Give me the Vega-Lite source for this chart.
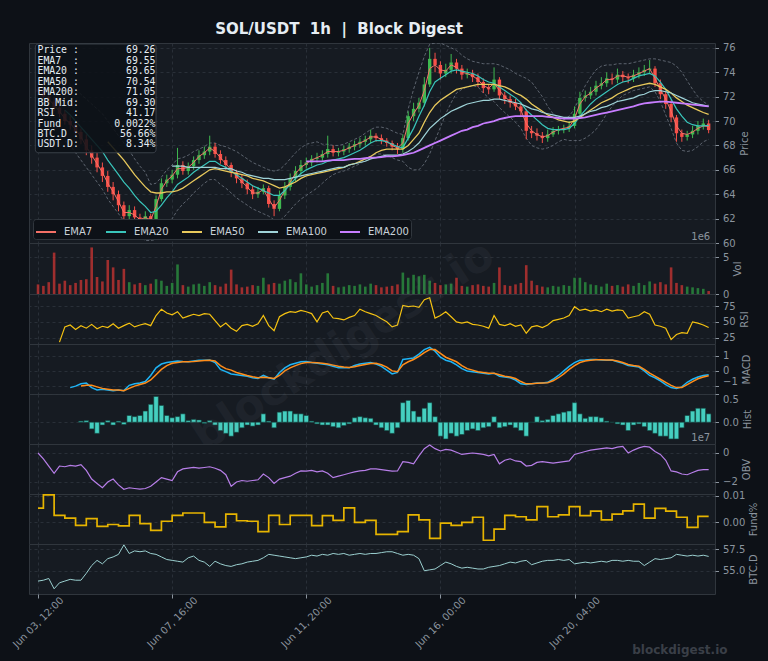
{
"$schema":"https://vega.github.io/schema/vega-lite/v6.json",
"background":"#0d1117",
"padding":{"left":10,"top":22,"right":12,"bottom":6},
"autosize":{"type":"pad"},
"title":{"text":"SOL/USDT\u00a0\u00a01h\u00a0\u00a0|\u00a0\u00a0Block Digest","fontSize":15,"fontWeight":"bold","color":"#e6edf3","anchor":"middle","frame":"group","dx":-33,"offset":5,"font":"DejaVu Sans"},
"spacing":0,
"bounds":"flush",
"resolve":{"scale":{"x":"shared","y":"independent","color":"independent"},"axis":{"x":"independent","y":"independent"}},
"datasets":{"d":[
{"t":"2024-06-03T12:00Z","o":72.6,"h":72.9,"l":72.1,"c":72.4,"v":1.3e6,"ob":0,"f":0.0053,"b":53.8},
{"t":"2024-06-03T16:00Z","o":72.4,"h":72.7,"l":71.8,"c":72.0,"v":1.1e6,"ob":-0.4e7,"f":0.0103,"b":53.9},
{"t":"2024-06-03T20:00Z","o":72.0,"h":72.3,"l":71.3,"c":71.6,"v":1.6e6,"e7":71.8,"ob":-0.9e7,"f":0.0103,"b":54.1},
{"t":"2024-06-04T00:00Z","o":71.6,"h":71.9,"l":70.8,"c":71.1,"v":5.6e6,"e7":71.3,"ob":-1.4e7,"f":0.0026,"b":52.9},
{"t":"2024-06-04T04:00Z","o":71.1,"h":71.4,"l":70.3,"c":70.6,"v":1.4e6,"e7":70.8,"r":18,"ob":-0.9e7,"f":0.0026,"b":53.6},
{"t":"2024-06-04T08:00Z","o":70.6,"h":70.9,"l":69.7,"c":70.0,"v":1.8e6,"e7":70.2,"e20":70.9,"bu":73.4,"bl":68.4,"r":42,"ob":-0.95e7,"f":0.0016,"b":53.8},
{"t":"2024-06-04T12:00Z","o":70.0,"h":70.4,"l":69.3,"c":69.7,"v":1.2e6,"e7":69.8,"e20":70.5,"bu":73.0,"bl":68.0,"r":45,"m":-1.1,"ob":-0.85e7,"f":0.0016,"b":54.0},
{"t":"2024-06-04T16:00Z","o":69.7,"h":70.0,"l":68.8,"c":69.1,"v":1.5e6,"e7":69.3,"e20":70.0,"bu":72.6,"bl":67.4,"r":38,"m":-1.0,"ob":-0.9e7,"f":-0.0011,"b":53.9},
{"t":"2024-06-04T20:00Z","o":69.1,"h":69.4,"l":68.1,"c":68.5,"v":1.9e6,"e7":68.7,"e20":69.5,"bu":72.2,"bl":66.8,"r":44,"m":-0.85,"s":-1.0,"hs":0.02,"ob":-0.8e7,"f":-0.0011,"b":53.9},
{"t":"2024-06-05T00:00Z","o":68.5,"h":68.9,"l":67.2,"c":67.6,"v":2.0e6,"e7":67.9,"e20":69.0,"bu":71.8,"bl":66.2,"r":40,"m":-0.8,"s":-0.95,"hs":0.03,"ob":-1.2e7,"f":0.0014,"b":54.7},
{"t":"2024-06-05T04:00Z","o":67.6,"h":68.0,"l":66.5,"c":67.0,"v":6.3e6,"e7":67.2,"e20":68.5,"bu":71.4,"bl":65.6,"r":46,"m":-1.1,"s":-0.95,"hs":-0.12,"ob":-1.8e7,"f":0.0014,"b":55.6},
{"t":"2024-06-05T08:00Z","o":67.0,"h":67.4,"l":65.8,"c":66.2,"v":2.3e6,"e7":66.5,"e20":68.0,"bu":71.0,"bl":65.0,"r":39,"m":-1.25,"s":-1.05,"hs":-0.2,"ob":-2.1e7,"f":-0.0015,"b":56.2},
{"t":"2024-06-05T12:00Z","o":66.2,"h":66.6,"l":65.0,"c":65.5,"v":1.7e6,"e7":65.8,"e20":67.5,"bu":70.6,"bl":64.4,"r":43,"m":-1.2,"s":-1.15,"hs":-0.05,"ob":-2.4e7,"f":-0.0015,"b":55.8},
{"t":"2024-06-05T16:00Z","o":65.5,"h":65.9,"l":64.2,"c":64.6,"v":4.6e6,"e7":64.9,"e20":66.8,"e50":68.3,"bu":70.0,"bl":63.6,"r":41,"m":-1.25,"s":-1.2,"hs":0.03,"ob":-2.0e7,"f":-0.0008,"b":56.4},
{"t":"2024-06-05T20:00Z","o":64.6,"h":65.0,"l":63.5,"c":64.0,"v":3.6e6,"e7":64.2,"e20":66.2,"e50":67.8,"bu":69.4,"bl":63.0,"r":47,"m":-1.3,"s":-1.25,"hs":-0.05,"ob":-1.8e7,"f":-0.0008,"b":56.6},
{"t":"2024-06-06T00:00Z","o":64.0,"h":64.3,"l":62.6,"c":63.1,"v":1.9e6,"e7":63.4,"e20":65.6,"e50":67.3,"bu":68.8,"bl":62.4,"r":40,"m":-1.25,"s":-1.25,"hs":0.02,"ob":-2.2e7,"f":-0.0013,"b":56.9},
{"t":"2024-06-06T04:00Z","o":63.1,"h":63.4,"l":60.6,"c":62.2,"v":3.4e6,"e7":62.5,"e20":65.0,"e50":66.8,"bu":68.2,"bl":61.8,"r":44,"m":-1.3,"s":-1.3,"hs":-0.04,"ob":-2.5e7,"f":-0.0013,"b":58.0},
{"t":"2024-06-06T08:00Z","o":62.2,"h":63.1,"l":61.9,"c":62.7,"v":1.6e6,"e7":62.5,"e20":64.5,"e50":66.2,"bu":67.6,"bl":61.4,"r":48,"m":-0.95,"s":-1.15,"hs":0.12,"ob":-2.4e7,"f":0.0026,"b":57.0},
{"t":"2024-06-06T12:00Z","o":62.7,"h":63.0,"l":61.7,"c":62.1,"v":1.3e6,"e7":62.3,"e20":63.9,"e50":65.6,"bu":66.9,"bl":60.9,"r":42,"m":-0.85,"s":-1.0,"hs":0.1,"ob":-2.45e7,"f":0.0026,"b":57.3},
{"t":"2024-06-06T16:00Z","o":62.1,"h":62.4,"l":61.3,"c":61.8,"v":1.5e6,"e7":61.9,"e20":63.4,"e50":65.1,"bu":66.3,"bl":60.5,"r":45,"m":-0.8,"s":-0.9,"hs":0.12,"ob":-2.5e7,"f":-0.0005,"b":57.2},
{"t":"2024-06-06T20:00Z","o":61.8,"h":62.6,"l":61.5,"c":62.2,"v":1.2e6,"e7":62.1,"e20":63.0,"e50":64.6,"bu":65.8,"bl":60.2,"r":47,"m":-0.7,"s":-0.8,"hs":0.2,"ob":-2.45e7,"f":-0.0005,"b":57.3},
{"t":"2024-06-07T00:00Z","o":62.2,"h":62.4,"l":61.2,"c":61.7,"v":1.4e6,"e7":61.9,"e20":62.5,"e50":64.2,"bu":64.8,"bl":60.2,"r":44,"m":-0.3,"s":-0.6,"hs":0.32,"ob":-2.3e7,"f":-0.003,"b":57.0},
{"t":"2024-06-07T04:00Z","o":61.7,"h":63.9,"l":61.5,"c":63.6,"v":2.0e6,"e7":63.0,"e20":62.6,"e50":64.1,"bu":64.9,"bl":60.3,"r":60,"m":0.2,"s":-0.25,"hs":0.46,"ob":-2.0e7,"f":-0.003,"b":56.9},
{"t":"2024-06-07T08:00Z","o":63.6,"h":65.3,"l":63.4,"c":64.9,"v":1.8e6,"e7":64.4,"e20":63.1,"e50":64.1,"bu":65.4,"bl":60.8,"r":70,"m":0.45,"s":0.1,"hs":0.3,"ob":-1.7e7,"f":0.0004,"b":56.6},
{"t":"2024-06-07T12:00Z","o":64.9,"h":65.6,"l":64.6,"c":65.2,"v":1.1e6,"e7":65.1,"e20":63.7,"e50":64.2,"bu":66.0,"bl":61.4,"r":64,"m":0.55,"s":0.35,"hs":0.12,"ob":-1.8e7,"f":0.0004,"b":56.3},
{"t":"2024-06-07T16:00Z","o":65.2,"h":66.0,"l":64.9,"c":65.6,"v":1.5e6,"e7":65.5,"e20":64.2,"e50":64.2,"e100":66.3,"bu":66.4,"bl":62.0,"r":61,"m":0.6,"s":0.5,"hs":0.08,"ob":-1.9e7,"f":0.0026,"b":56.2},
{"t":"2024-06-07T20:00Z","o":65.6,"h":67.8,"l":65.3,"c":66.4,"v":4.0e6,"e7":66.1,"e20":64.8,"e50":64.3,"e100":66.3,"bu":66.9,"bl":62.7,"r":66,"m":0.65,"s":0.55,"hs":0.1,"ob":-1.3e7,"f":0.0026,"b":56.1},
{"t":"2024-06-08T00:00Z","o":66.4,"h":66.7,"l":65.6,"c":65.9,"v":1.2e6,"e7":66.1,"e20":65.1,"e50":64.5,"e100":66.3,"bu":67.0,"bl":63.2,"r":56,"m":0.62,"s":0.6,"hs":0.15,"ob":-1.1e7,"f":0.0035,"b":56.0},
{"t":"2024-06-08T04:00Z","o":65.9,"h":66.6,"l":65.6,"c":66.3,"v":1.0e6,"e7":66.2,"e20":65.4,"e50":64.8,"e100":66.2,"bu":67.2,"bl":63.6,"r":59,"m":0.6,"s":0.6,"hs":0.03,"ob":-1.05e7,"f":0.0035,"b":56.5},
{"t":"2024-06-08T08:00Z","o":66.3,"h":67.1,"l":66.0,"c":66.8,"v":1.3e6,"e7":66.6,"e20":65.8,"e50":65.1,"e100":66.2,"bu":67.5,"bl":64.1,"r":62,"m":0.65,"s":0.62,"hs":0.05,"ob":-1.0e7,"f":0.0035,"b":56.7},
{"t":"2024-06-08T12:00Z","o":66.8,"h":67.6,"l":66.5,"c":67.2,"v":1.4e6,"e7":67.1,"e20":66.1,"e50":65.4,"e100":66.2,"bu":67.7,"bl":64.5,"r":60,"m":0.7,"s":0.65,"hs":0.04,"ob":-1.05e7,"f":0.0035,"b":56.2},
{"t":"2024-06-08T16:00Z","o":67.2,"h":67.9,"l":66.9,"c":67.5,"v":1.1e6,"e7":67.4,"e20":66.4,"e50":65.7,"e100":66.2,"bu":67.9,"bl":64.9,"r":63,"m":0.7,"s":0.68,"hs":-0.02,"ob":-1.0e7,"f":0,"b":56.0},
{"t":"2024-06-08T20:00Z","o":67.5,"h":68.8,"l":67.2,"c":67.9,"v":1.6e6,"e7":67.8,"e20":66.7,"e50":66.0,"e100":66.2,"bu":68.2,"bl":65.2,"r":62,"m":0.72,"s":0.7,"hs":0.03,"ob":-0.95e7,"f":0,"b":55.5},
{"t":"2024-06-09T00:00Z","o":67.9,"h":68.2,"l":67.0,"c":67.3,"v":1.2e6,"e7":67.5,"e20":66.7,"e50":66.1,"e100":66.2,"bu":68.2,"bl":65.2,"r":52,"m":0.55,"s":0.65,"hs":-0.05,"ob":-1.05e7,"f":-0.0017,"b":56.1},
{"t":"2024-06-09T04:00Z","o":67.3,"h":67.6,"l":66.5,"c":66.8,"v":1.0e6,"e7":67.0,"e20":66.4,"e50":66.0,"e100":66.1,"bu":68.0,"bl":64.8,"r":42,"m":0.1,"s":0.35,"hs":-0.15,"ob":-1.2e7,"f":-0.0017,"b":55.8},
{"t":"2024-06-09T08:00Z","o":66.8,"h":67.1,"l":66.0,"c":66.4,"v":1.4e6,"e7":66.5,"e20":66.2,"e50":65.9,"e100":66.1,"bu":67.9,"bl":64.5,"r":48,"m":-0.05,"s":0.15,"hs":-0.2,"ob":-1.5e7,"f":0.0031,"b":55.6},
{"t":"2024-06-09T12:00Z","o":66.4,"h":66.6,"l":65.4,"c":65.8,"v":3.3e6,"e7":66.0,"e20":65.9,"e50":65.8,"e100":66.1,"bu":67.7,"bl":64.1,"r":40,"m":-0.2,"s":0.05,"hs":-0.25,"ob":-2.3e7,"f":0.0031,"b":55.5},
{"t":"2024-06-09T16:00Z","o":65.8,"h":66.0,"l":64.9,"c":65.3,"v":1.3e6,"e7":65.5,"e20":65.6,"e50":65.7,"e100":65.9,"bu":67.5,"bl":63.7,"r":35,"m":-0.25,"s":-0.1,"hs":-0.18,"ob":-2.0e7,"f":0.0006,"b":55.7},
{"t":"2024-06-09T20:00Z","o":65.3,"h":65.6,"l":64.5,"c":64.9,"v":0.9e6,"e7":65.0,"e20":65.3,"e50":65.6,"e100":65.8,"bu":67.2,"bl":63.4,"r":44,"m":-0.3,"s":-0.2,"hs":-0.1,"ob":-1.9e7,"f":0.0006,"b":55.8},
{"t":"2024-06-10T00:00Z","o":64.9,"h":65.2,"l":64.0,"c":64.4,"v":1.0e6,"e7":64.6,"e20":65.0,"e50":65.5,"e100":65.6,"bu":66.9,"bl":63.1,"r":46,"m":-0.35,"s":-0.3,"hs":-0.05,"ob":-1.95e7,"f":0.0004,"b":56.0},
{"t":"2024-06-10T04:00Z","o":64.4,"h":64.7,"l":63.6,"c":64.0,"v":1.2e6,"e7":64.1,"e20":64.7,"e50":65.3,"e100":65.5,"bu":66.6,"bl":62.8,"r":43,"m":-0.45,"s":-0.38,"hs":-0.07,"ob":-1.9e7,"f":0.0004,"b":56.1},
{"t":"2024-06-10T08:00Z","o":64.0,"h":64.6,"l":63.7,"c":64.2,"v":1.1e6,"e7":64.1,"e20":64.5,"e50":65.2,"e100":65.4,"bu":66.4,"bl":62.6,"r":47,"m":-0.5,"s":-0.45,"hs":-0.05,"ob":-1.85e7,"f":-0.0035,"b":56.2},
{"t":"2024-06-10T12:00Z","o":64.2,"h":64.8,"l":64.0,"c":64.5,"v":2.2e6,"e7":64.4,"e20":64.3,"e50":65.1,"e100":65.3,"bu":66.2,"bl":62.4,"r":60,"m":-0.3,"s":-0.42,"hs":0.15,"ob":-1.45e7,"f":-0.0035,"b":56.5},
{"t":"2024-06-10T16:00Z","o":64.5,"h":64.7,"l":62.9,"c":63.2,"v":1.3e6,"e7":63.6,"e20":64.1,"e50":64.9,"e100":65.3,"bu":66.0,"bl":62.2,"r":44,"m":-0.45,"s":-0.45,"hs":0.02,"ob":-1.7e7,"f":0.0026,"b":56.9},
{"t":"2024-06-10T20:00Z","o":63.2,"h":63.5,"l":62.2,"c":62.8,"v":1.5e6,"e7":62.9,"e20":63.9,"e50":64.7,"e100":65.2,"bu":65.9,"bl":61.9,"r":36,"m":-0.55,"s":-0.5,"hs":-0.1,"ob":-2.1e7,"f":0.0026,"b":56.8},
{"t":"2024-06-11T00:00Z","o":62.8,"h":64.3,"l":62.6,"c":63.9,"v":1.4e6,"e7":63.5,"e20":63.9,"e50":64.5,"e100":65.2,"bu":66.0,"bl":61.8,"r":58,"m":-0.1,"s":-0.3,"hs":0.18,"ob":-1.8e7,"f":-0.0008,"b":56.7},
{"t":"2024-06-11T04:00Z","o":63.9,"h":65.0,"l":63.6,"c":64.6,"v":1.8e6,"e7":64.3,"e20":64.3,"e50":64.6,"e100":65.2,"bu":66.4,"bl":62.2,"r":63,"m":0.2,"s":0.0,"hs":0.2,"ob":-1.7e7,"f":-0.0008,"b":56.6},
{"t":"2024-06-11T08:00Z","o":64.6,"h":65.7,"l":64.3,"c":65.3,"v":2.0e6,"e7":65.0,"e20":64.8,"e50":64.8,"e100":65.3,"bu":66.9,"bl":62.7,"r":66,"m":0.4,"s":0.2,"hs":0.2,"ob":-1.6e7,"f":0.0026,"b":56.5},
{"t":"2024-06-11T12:00Z","o":65.3,"h":66.3,"l":65.0,"c":65.9,"v":1.6e6,"e7":65.7,"e20":65.3,"e50":65.0,"e100":65.4,"bu":67.4,"bl":63.2,"r":65,"m":0.5,"s":0.35,"hs":0.15,"ob":-1.4e7,"f":0.0026,"b":56.4},
{"t":"2024-06-11T16:00Z","o":65.9,"h":66.8,"l":65.6,"c":66.4,"v":2.8e6,"e7":66.2,"e20":65.7,"e50":65.3,"e100":65.5,"bu":67.8,"bl":63.6,"r":68,"m":0.6,"s":0.48,"hs":0.15,"ob":-1.24e7,"f":0.0026,"b":56.5},
{"t":"2024-06-11T20:00Z","o":66.4,"h":67.0,"l":66.1,"c":66.6,"v":1.3e6,"e7":66.5,"e20":66.0,"e50":65.5,"e100":65.6,"e200":66.7,"bu":68.1,"bl":63.9,"r":66,"m":0.62,"s":0.55,"hs":0.12,"ob":-1.25e7,"f":0.0026,"b":56.6},
{"t":"2024-06-12T00:00Z","o":66.6,"h":67.2,"l":66.3,"c":66.9,"v":1.0e6,"e7":66.8,"e20":66.2,"e50":65.6,"e100":65.7,"e200":66.7,"bu":68.2,"bl":64.2,"r":63,"m":0.55,"s":0.56,"hs":0.02,"ob":-1.2e7,"f":-0.0012,"b":56.8},
{"t":"2024-06-12T04:00Z","o":66.9,"h":67.4,"l":66.6,"c":67.0,"v":1.2e6,"e7":67.0,"e20":66.4,"e50":65.7,"e100":65.8,"e200":66.7,"bu":68.3,"bl":64.5,"r":50,"m":0.5,"s":0.53,"hs":-0.03,"ob":-1.3e7,"f":-0.0012,"b":56.7},
{"t":"2024-06-12T08:00Z","o":67.0,"h":67.6,"l":66.7,"c":67.3,"v":1.5e6,"e7":67.2,"e20":66.5,"e50":65.8,"e100":65.9,"e200":66.7,"bu":68.1,"bl":64.9,"r":64,"m":0.45,"s":0.5,"hs":-0.05,"ob":-1.24e7,"f":0.0025,"b":56.9},
{"t":"2024-06-12T12:00Z","o":67.3,"h":68.8,"l":67.0,"c":67.7,"v":2.8e6,"e7":67.5,"e20":66.7,"e50":65.9,"e100":66.0,"e200":66.75,"bu":68.1,"bl":65.3,"r":67,"m":0.4,"s":0.45,"hs":-0.05,"ob":-1.4e7,"f":0.0025,"b":56.8},
{"t":"2024-06-12T16:00Z","o":67.7,"h":68.0,"l":67.1,"c":67.4,"v":1.1e6,"e7":67.5,"e20":66.8,"e50":66.0,"e100":66.1,"e200":66.8,"bu":68.0,"bl":65.6,"r":56,"m":0.3,"s":0.38,"hs":-0.08,"ob":-1.7e7,"f":0.0007,"b":57.0},
{"t":"2024-06-12T20:00Z","o":67.4,"h":67.8,"l":67.1,"c":67.5,"v":0.9e6,"e7":67.5,"e20":66.9,"e50":66.1,"e100":66.2,"e200":66.8,"bu":68.0,"bl":65.8,"r":55,"m":0.2,"s":0.3,"hs":-0.1,"ob":-1.6e7,"f":0.0007,"b":56.9},
{"t":"2024-06-13T00:00Z","o":67.5,"h":68.0,"l":67.2,"c":67.7,"v":1.0e6,"e7":67.6,"e20":67.0,"e50":66.2,"e100":66.2,"e200":66.8,"bu":68.1,"bl":65.9,"r":53,"m":0.2,"s":0.25,"hs":-0.06,"ob":-1.5e7,"f":0.0054,"b":57.0},
{"t":"2024-06-13T04:00Z","o":67.7,"h":68.2,"l":67.4,"c":67.9,"v":1.2e6,"e7":67.8,"e20":67.2,"e50":66.4,"e100":66.4,"e200":66.85,"bu":68.3,"bl":66.1,"r":57,"m":0.2,"s":0.22,"hs":-0.03,"ob":-1.4e7,"f":0.0054,"b":56.8},
{"t":"2024-06-13T08:00Z","o":67.9,"h":68.4,"l":67.6,"c":68.1,"v":1.1e6,"e7":68.0,"e20":67.4,"e50":66.5,"e100":66.5,"e200":66.9,"bu":68.5,"bl":66.3,"r":60,"m":0.35,"s":0.27,"hs":0.08,"ob":-1.3e7,"f":0,"b":56.9},
{"t":"2024-06-13T12:00Z","o":68.1,"h":68.6,"l":67.8,"c":68.3,"v":1.3e6,"e7":68.2,"e20":67.6,"e50":66.7,"e100":66.6,"e200":66.9,"bu":68.7,"bl":66.5,"r":70,"m":0.45,"s":0.35,"hs":0.1,"ob":-1.24e7,"f":0,"b":57.0},
{"t":"2024-06-13T16:00Z","o":68.3,"h":68.8,"l":68.0,"c":68.5,"v":1.0e6,"e7":68.4,"e20":67.9,"e50":66.9,"e100":66.7,"e200":66.95,"bu":69.0,"bl":66.8,"r":66,"m":0.5,"s":0.42,"hs":0.08,"ob":-1.2e7,"f":0.0007,"b":56.9},
{"t":"2024-06-13T20:00Z","o":68.5,"h":69.3,"l":68.2,"c":68.8,"v":1.4e6,"e7":68.7,"e20":68.2,"e50":67.1,"e100":66.9,"e200":67.0,"bu":69.3,"bl":67.1,"r":63,"m":0.55,"s":0.48,"hs":0.07,"ob":-1.1e7,"f":0.0007,"b":57.0},
{"t":"2024-06-14T00:00Z","o":68.8,"h":69.0,"l":68.3,"c":68.6,"v":1.2e6,"e7":68.7,"e20":68.4,"e50":67.4,"e100":67.0,"e200":67.0,"bu":69.5,"bl":67.3,"r":60,"m":0.45,"s":0.5,"hs":-0.05,"ob":-1.1e7,"f":-0.0045,"b":57.0},
{"t":"2024-06-14T04:00Z","o":68.6,"h":68.9,"l":68.1,"c":68.4,"v":0.9e6,"e7":68.5,"e20":68.4,"e50":67.6,"e100":67.1,"e200":67.05,"bu":69.5,"bl":67.3,"r":55,"m":0.3,"s":0.4,"hs":-0.1,"ob":-1.15e7,"f":-0.0045,"b":57.1},
{"t":"2024-06-14T08:00Z","o":68.4,"h":68.6,"l":67.9,"c":68.2,"v":1.0e6,"e7":68.3,"e20":68.3,"e50":67.7,"e100":67.2,"e200":67.1,"bu":69.4,"bl":67.2,"r":50,"m":0.05,"s":0.25,"hs":-0.15,"ob":-1.2e7,"f":-0.0045,"b":57.2},
{"t":"2024-06-14T12:00Z","o":68.2,"h":68.4,"l":67.6,"c":67.9,"v":1.1e6,"e7":68.0,"e20":68.1,"e50":67.7,"e100":67.2,"e200":67.1,"bu":69.2,"bl":67.0,"r":42,"m":-0.2,"s":0.0,"hs":-0.2,"ob":-1.25e7,"f":-0.0045,"b":57.2},
{"t":"2024-06-14T16:00Z","o":67.9,"h":68.2,"l":67.3,"c":67.7,"v":1.3e6,"e7":67.8,"e20":67.9,"e50":67.7,"e100":67.2,"e200":67.15,"bu":69.0,"bl":66.8,"r":45,"m":-0.1,"s":-0.05,"hs":-0.1,"ob":-1.24e7,"f":-0.0035,"b":57.0},
{"t":"2024-06-14T20:00Z","o":67.7,"h":68.9,"l":67.4,"c":68.6,"v":2.9e6,"e7":68.2,"e20":67.8,"e50":67.7,"e100":67.3,"e200":67.2,"bu":68.9,"bl":66.7,"r":76,"m":0.75,"s":0.4,"hs":0.35,"ob":-0.6e7,"f":-0.0035,"b":56.8},
{"t":"2024-06-15T00:00Z","o":68.6,"h":70.8,"l":68.4,"c":70.4,"v":2.2e6,"e7":69.8,"e20":68.6,"e50":68.0,"e100":67.5,"e200":67.3,"bu":71.0,"bl":66.2,"r":74,"m":0.8,"s":0.6,"hs":0.39,"ob":-0.65e7,"f":0.0028,"b":56.9},
{"t":"2024-06-15T04:00Z","o":70.4,"h":71.5,"l":70.0,"c":71.0,"v":2.6e6,"e7":70.6,"e20":69.4,"e50":68.5,"e100":67.8,"e200":67.4,"bu":72.6,"bl":66.0,"r":75,"m":0.85,"s":0.75,"hs":0.2,"ob":-0.75e7,"f":0.0028,"b":56.8},
{"t":"2024-06-15T08:00Z","o":71.0,"h":71.9,"l":70.7,"c":71.5,"v":2.4e6,"e7":71.3,"e20":70.4,"e50":69.0,"e100":68.2,"e200":67.6,"bu":74.0,"bl":66.0,"r":73,"m":1.1,"s":0.95,"hs":0.1,"ob":-0.2e7,"f":0.0009,"b":56.4},
{"t":"2024-06-15T12:00Z","o":71.5,"h":73.6,"l":71.2,"c":73.0,"v":2.6e6,"e7":72.5,"e20":71.3,"e50":69.9,"e100":68.8,"e200":67.8,"bu":75.3,"bl":66.5,"r":85,"m":1.4,"s":1.2,"hs":0.25,"ob":0.3e7,"f":0.0009,"b":55.0},
{"t":"2024-06-15T16:00Z","o":73.0,"h":76.0,"l":72.8,"c":75.1,"v":1.8e6,"e7":74.3,"e20":72.4,"e50":70.7,"e100":69.4,"e200":68.0,"bu":76.3,"bl":67.3,"r":88,"m":1.55,"s":1.4,"hs":0.35,"ob":0.55e7,"f":-0.006,"b":55.1},
{"t":"2024-06-15T20:00Z","o":75.1,"h":75.6,"l":74.0,"c":74.6,"v":1.5e6,"e7":74.6,"e20":73.2,"e50":71.3,"e100":69.8,"e200":68.2,"bu":76.4,"bl":68.4,"r":56,"m":1.3,"s":1.4,"hs":0.1,"ob":0.3e7,"f":-0.006,"b":55.2},
{"t":"2024-06-16T00:00Z","o":74.6,"h":74.9,"l":73.4,"c":73.9,"v":1.2e6,"e7":74.2,"e20":73.5,"e50":71.7,"e100":70.2,"e200":68.4,"bu":76.4,"bl":69.5,"r":60,"m":0.9,"s":1.15,"hs":-0.25,"ob":0.14e7,"f":-0.0003,"b":55.6},
{"t":"2024-06-16T04:00Z","o":73.9,"h":74.7,"l":73.6,"c":74.2,"v":1.3e6,"e7":74.1,"e20":73.8,"e50":72.0,"e100":70.5,"e200":68.6,"bu":76.2,"bl":70.6,"r":66,"m":0.7,"s":0.9,"hs":-0.3,"ob":0.25e7,"f":-0.0003,"b":56.0},
{"t":"2024-06-16T08:00Z","o":74.2,"h":75.5,"l":73.9,"c":74.8,"v":1.4e6,"e7":74.6,"e20":74.1,"e50":72.3,"e100":70.8,"e200":68.8,"bu":76.0,"bl":71.5,"r":58,"m":0.6,"s":0.75,"hs":-0.2,"ob":0.2e7,"f":-0.0011,"b":55.8},
{"t":"2024-06-16T12:00Z","o":74.8,"h":75.1,"l":73.9,"c":74.3,"v":2.2e6,"e7":74.4,"e20":74.2,"e50":72.6,"e100":71.0,"e200":69.0,"bu":75.8,"bl":72.3,"r":50,"m":0.4,"s":0.6,"hs":-0.25,"ob":0.05e7,"f":-0.0011,"b":55.5},
{"t":"2024-06-16T16:00Z","o":74.3,"h":74.6,"l":73.4,"c":73.8,"v":1.1e6,"e7":74.0,"e20":74.1,"e50":72.7,"e100":71.2,"e200":69.2,"bu":75.4,"bl":72.6,"r":48,"m":0.15,"s":0.35,"hs":-0.22,"ob":-0.1e7,"f":0,"b":55.3},
{"t":"2024-06-16T20:00Z","o":73.8,"h":74.3,"l":73.5,"c":73.9,"v":1.0e6,"e7":73.9,"e20":74.0,"e50":72.8,"e100":71.4,"e200":69.3,"bu":75.1,"bl":72.8,"r":50,"m":0.0,"s":0.15,"hs":-0.15,"ob":-0.05e7,"f":0,"b":55.4},
{"t":"2024-06-17T00:00Z","o":73.9,"h":74.2,"l":73.2,"c":73.6,"v":1.2e6,"e7":73.7,"e20":73.9,"e50":72.9,"e100":71.5,"e200":69.5,"bu":74.9,"bl":72.9,"r":46,"m":-0.05,"s":0.05,"hs":-0.12,"ob":0,"f":0.0019,"b":55.3},
{"t":"2024-06-17T04:00Z","o":73.6,"h":73.9,"l":72.8,"c":73.2,"v":1.3e6,"e7":73.4,"e20":73.7,"e50":73.0,"e100":71.6,"e200":69.6,"bu":74.8,"bl":72.8,"r":45,"m":-0.1,"s":-0.05,"hs":-0.15,"ob":-0.05e7,"f":0.0019,"b":55.2},
{"t":"2024-06-17T08:00Z","o":73.2,"h":73.5,"l":72.3,"c":72.7,"v":1.1e6,"e7":72.9,"e20":73.4,"e50":73.0,"e100":71.7,"e200":69.8,"bu":74.7,"bl":72.3,"r":43,"m":-0.15,"s":-0.1,"hs":-0.1,"ob":-0.1e7,"f":-0.0067,"b":55.2},
{"t":"2024-06-17T12:00Z","o":72.7,"h":73.0,"l":72.2,"c":72.6,"v":1.0e6,"e7":72.7,"e20":73.2,"e50":73.0,"e100":71.7,"e200":69.9,"bu":74.7,"bl":71.9,"r":40,"m":-0.2,"s":-0.15,"hs":-0.08,"ob":-0.2e7,"f":-0.0067,"b":55.4},
{"t":"2024-06-17T16:00Z","o":72.6,"h":74.4,"l":72.4,"c":73.4,"v":1.5e6,"e7":73.1,"e20":73.1,"e50":73.0,"e100":71.8,"e200":70.0,"bu":74.7,"bl":71.6,"r":60,"m":-0.15,"s":-0.15,"hs":0.1,"ob":-0.1e7,"f":-0.0025,"b":55.5},
{"t":"2024-06-17T20:00Z","o":73.4,"h":73.6,"l":71.8,"c":72.1,"v":3.6e6,"e7":72.5,"e20":72.8,"e50":72.9,"e100":71.8,"e200":70.15,"bu":74.6,"bl":71.1,"r":46,"m":-0.35,"s":-0.25,"hs":-0.1,"ob":-0.75e7,"f":-0.0025,"b":55.6},
{"t":"2024-06-18T00:00Z","o":72.1,"h":72.4,"l":71.4,"c":71.8,"v":1.2e6,"e7":72.0,"e20":72.5,"e50":72.8,"e100":71.7,"e200":70.25,"bu":74.4,"bl":70.7,"r":44,"m":-0.4,"s":-0.35,"hs":-0.08,"ob":-0.5e7,"f":0.0026,"b":55.8},
{"t":"2024-06-18T04:00Z","o":71.8,"h":72.1,"l":71.1,"c":71.5,"v":1.1e6,"e7":71.6,"e20":72.2,"e50":72.6,"e100":71.6,"e200":70.35,"bu":74.2,"bl":70.3,"r":47,"m":-0.45,"s":-0.4,"hs":-0.05,"ob":-0.4e7,"f":0.0026,"b":56.0},
{"t":"2024-06-18T08:00Z","o":71.5,"h":71.8,"l":70.9,"c":71.2,"v":1.3e6,"e7":71.3,"e20":71.9,"e50":72.3,"e100":71.5,"e200":70.4,"bu":73.9,"bl":69.9,"r":43,"m":-0.6,"s":-0.5,"hs":-0.1,"ob":-0.55e7,"f":0.0021,"b":55.9},
{"t":"2024-06-18T12:00Z","o":71.2,"h":71.5,"l":70.4,"c":70.8,"v":1.5e6,"e7":70.9,"e20":71.5,"e50":72.1,"e100":71.4,"e200":70.4,"bu":73.7,"bl":69.4,"r":45,"m":-0.85,"s":-0.7,"hs":-0.15,"ob":-0.6e7,"f":0.0021,"b":56.1},
{"t":"2024-06-18T16:00Z","o":70.8,"h":71.0,"l":68.5,"c":69.2,"v":3.9e6,"e7":69.8,"e20":70.9,"e50":71.8,"e100":71.2,"e200":70.4,"bu":73.5,"bl":68.6,"r":32,"m":-0.9,"s":-0.85,"hs":-0.25,"ob":-0.9e7,"f":0.0009,"b":56.2},
{"t":"2024-06-18T20:00Z","o":69.2,"h":69.6,"l":68.6,"c":69.0,"v":1.8e6,"e7":69.2,"e20":70.5,"e50":71.4,"e100":71.0,"e200":70.4,"bu":73.2,"bl":68.0,"r":42,"m":-0.85,"s":-0.85,"hs":0.0,"ob":-0.85e7,"f":0.0009,"b":55.7},
{"t":"2024-06-19T00:00Z","o":69.0,"h":69.4,"l":68.4,"c":68.8,"v":1.2e6,"e7":68.9,"e20":70.1,"e50":71.1,"e100":70.9,"e200":70.4,"bu":72.6,"bl":67.8,"r":44,"m":-0.8,"s":-0.82,"hs":0.1,"ob":-0.65e7,"f":0.0059,"b":55.9},
{"t":"2024-06-19T04:00Z","o":68.8,"h":69.1,"l":68.2,"c":68.6,"v":1.0e6,"e7":68.7,"e20":69.7,"e50":70.8,"e100":70.7,"e200":70.4,"bu":72.0,"bl":67.7,"r":41,"m":-0.8,"s":-0.8,"hs":0.03,"ob":-0.6e7,"f":0.0059,"b":56.1},
{"t":"2024-06-19T08:00Z","o":68.6,"h":69.3,"l":68.3,"c":68.9,"v":0.9e6,"e7":68.8,"e20":69.4,"e50":70.5,"e100":70.6,"e200":70.35,"bu":71.2,"bl":67.8,"r":45,"m":-0.75,"s":-0.78,"hs":0.05,"ob":-0.65e7,"f":0.0021,"b":56.2},
{"t":"2024-06-19T12:00Z","o":68.9,"h":69.5,"l":68.7,"c":69.2,"v":1.1e6,"e7":69.1,"e20":69.3,"e50":70.3,"e100":70.5,"e200":70.3,"bu":70.6,"bl":68.0,"r":52,"m":-0.55,"s":-0.65,"hs":0.12,"ob":-0.7e7,"f":0.0021,"b":56.2},
{"t":"2024-06-19T16:00Z","o":69.2,"h":69.6,"l":68.9,"c":69.3,"v":1.0e6,"e7":69.3,"e20":69.3,"e50":70.1,"e100":70.4,"e200":70.25,"bu":70.2,"bl":68.3,"r":54,"m":-0.3,"s":-0.45,"hs":0.15,"ob":-0.65e7,"f":0.0028,"b":56.3},
{"t":"2024-06-19T20:00Z","o":69.3,"h":69.7,"l":69.0,"c":69.4,"v":1.2e6,"e7":69.4,"e20":69.3,"e50":70.0,"e100":70.3,"e200":70.2,"bu":70.1,"bl":68.5,"r":56,"m":0.0,"s":-0.2,"hs":0.18,"ob":-0.6e7,"f":0.0028,"b":56.2},
{"t":"2024-06-20T00:00Z","o":69.4,"h":70.0,"l":69.1,"c":69.6,"v":1.1e6,"e7":69.5,"e20":69.4,"e50":69.9,"e100":70.3,"e200":70.2,"bu":70.4,"bl":68.4,"r":60,"m":0.3,"s":0.1,"hs":0.2,"ob":-0.55e7,"f":0.0059,"b":56.3},
{"t":"2024-06-20T04:00Z","o":69.6,"h":71.2,"l":69.4,"c":70.6,"v":2.2e6,"e7":70.2,"e20":69.8,"e50":70.0,"e100":70.3,"e200":70.2,"bu":71.0,"bl":68.4,"r":74,"m":0.55,"s":0.35,"hs":0.35,"ob":-0.1e7,"f":0.0059,"b":55.8},
{"t":"2024-06-20T08:00Z","o":70.6,"h":72.4,"l":70.4,"c":71.9,"v":2.2e6,"e7":71.4,"e20":70.4,"e50":70.3,"e100":70.4,"e200":70.25,"bu":72.0,"bl":68.4,"r":68,"m":0.7,"s":0.55,"hs":0.15,"ob":0,"f":0.0025,"b":55.9},
{"t":"2024-06-20T12:00Z","o":71.9,"h":72.5,"l":71.6,"c":72.1,"v":1.6e6,"e7":72.0,"e20":70.9,"e50":70.6,"e100":70.6,"e200":70.3,"bu":72.9,"bl":68.6,"r":70,"m":0.72,"s":0.65,"hs":0.07,"ob":0.1e7,"f":0.0025,"b":56.0},
{"t":"2024-06-20T16:00Z","o":72.1,"h":72.8,"l":71.8,"c":72.4,"v":1.3e6,"e7":72.3,"e20":71.4,"e50":70.9,"e100":70.8,"e200":70.4,"bu":73.6,"bl":68.9,"r":67,"m":0.75,"s":0.7,"hs":0.1,"ob":0.2e7,"f":0.0042,"b":55.9},
{"t":"2024-06-20T20:00Z","o":72.4,"h":73.3,"l":72.1,"c":72.9,"v":1.2e6,"e7":72.7,"e20":71.8,"e50":71.2,"e100":70.9,"e200":70.5,"bu":74.2,"bl":69.3,"r":69,"m":0.75,"s":0.73,"hs":0.1,"ob":0.25e7,"f":0.0042,"b":56.0},
{"t":"2024-06-21T00:00Z","o":72.9,"h":73.6,"l":72.6,"c":73.1,"v":1.0e6,"e7":73.0,"e20":72.1,"e50":71.5,"e100":71.1,"e200":70.6,"bu":74.5,"bl":69.9,"r":66,"m":0.72,"s":0.73,"hs":0.08,"ob":0.3e7,"f":0.0009,"b":56.1},
{"t":"2024-06-21T04:00Z","o":73.1,"h":74.0,"l":72.8,"c":73.5,"v":1.4e6,"e7":73.4,"e20":72.4,"e50":71.7,"e100":71.2,"e200":70.7,"bu":74.6,"bl":70.6,"r":70,"m":0.7,"s":0.72,"hs":0.02,"ob":0.35e7,"f":0.0009,"b":56.0},
{"t":"2024-06-21T08:00Z","o":73.5,"h":73.9,"l":73.0,"c":73.4,"v":1.1e6,"e7":73.4,"e20":72.7,"e50":71.9,"e100":71.4,"e200":70.8,"bu":74.6,"bl":71.2,"r":67,"m":0.72,"s":0.72,"hs":0.0,"ob":0.3e7,"f":0.0031,"b":56.2},
{"t":"2024-06-21T12:00Z","o":73.4,"h":74.3,"l":73.1,"c":73.8,"v":1.2e6,"e7":73.7,"e20":73.0,"e50":72.2,"e100":71.6,"e200":70.9,"bu":74.7,"bl":71.7,"r":69,"m":0.6,"s":0.65,"hs":-0.03,"ob":0.4e7,"f":0.0031,"b":56.2},
{"t":"2024-06-21T16:00Z","o":73.8,"h":74.1,"l":73.2,"c":73.6,"v":1.0e6,"e7":73.7,"e20":73.2,"e50":72.4,"e100":71.7,"e200":71.0,"bu":74.7,"bl":72.1,"r":68,"m":0.5,"s":0.55,"hs":-0.05,"ob":0.45e7,"f":0.0043,"b":56.1},
{"t":"2024-06-21T20:00Z","o":73.6,"h":73.9,"l":73.1,"c":73.5,"v":1.3e6,"e7":73.6,"e20":73.3,"e50":72.6,"e100":71.8,"e200":71.1,"bu":74.7,"bl":72.3,"r":56,"m":0.35,"s":0.42,"hs":-0.15,"ob":0,"f":0.0043,"b":56.2},
{"t":"2024-06-22T00:00Z","o":73.5,"h":74.2,"l":73.2,"c":73.8,"v":1.1e6,"e7":73.7,"e20":73.5,"e50":72.8,"e100":71.9,"e200":71.2,"bu":74.8,"bl":72.5,"r":58,"m":0.3,"s":0.35,"hs":-0.05,"ob":0.2e7,"f":0.0068,"b":56.1},
{"t":"2024-06-22T04:00Z","o":73.8,"h":74.4,"l":73.5,"c":74.0,"v":1.5e6,"e7":73.9,"e20":73.7,"e50":72.9,"e100":72.1,"e200":71.35,"bu":74.9,"bl":72.6,"r":60,"m":0.25,"s":0.3,"hs":-0.03,"ob":0.35e7,"f":0.0068,"b":56.1},
{"t":"2024-06-22T08:00Z","o":74.0,"h":74.6,"l":73.7,"c":74.2,"v":1.2e6,"e7":74.1,"e20":73.8,"e50":73.0,"e100":72.2,"e200":71.45,"bu":75.0,"bl":72.7,"r":66,"m":0.0,"s":0.1,"hs":-0.08,"ob":0.45e7,"f":0.0016,"b":55.6},
{"t":"2024-06-22T12:00Z","o":74.2,"h":75.0,"l":73.9,"c":74.3,"v":1.7e6,"e7":74.3,"e20":73.9,"e50":73.1,"e100":72.4,"e200":71.5,"bu":75.1,"bl":72.8,"r":62,"m":-0.3,"s":-0.15,"hs":-0.15,"ob":0.4e7,"f":0.0016,"b":56.0},
{"t":"2024-06-22T16:00Z","o":74.3,"h":74.5,"l":72.8,"c":73.1,"v":1.4e6,"e7":73.5,"e20":73.7,"e50":73.0,"e100":72.5,"e200":71.55,"bu":75.1,"bl":72.4,"r":45,"m":-0.45,"s":-0.35,"hs":-0.2,"ob":0.1e7,"f":0.0052,"b":56.4},
{"t":"2024-06-22T20:00Z","o":73.1,"h":73.4,"l":71.8,"c":72.2,"v":1.6e6,"e7":72.6,"e20":73.2,"e50":72.8,"e100":72.5,"e200":71.6,"bu":75.0,"bl":71.6,"r":43,"m":-0.65,"s":-0.55,"hs":-0.25,"ob":-0.1e7,"f":0.0052,"b":56.3},
{"t":"2024-06-23T00:00Z","o":72.2,"h":72.5,"l":71.0,"c":71.4,"v":1.3e6,"e7":71.8,"e20":72.6,"e50":72.6,"e100":72.4,"e200":71.6,"bu":74.9,"bl":70.5,"r":40,"m":-0.9,"s":-0.75,"hs":-0.25,"ob":-0.5e7,"f":0.0042,"b":56.4},
{"t":"2024-06-23T04:00Z","o":71.4,"h":71.7,"l":69.9,"c":70.3,"v":3.6e6,"e7":70.8,"e20":71.8,"e50":72.3,"e100":72.3,"e200":71.55,"bu":74.8,"bl":69.4,"r":22,"m":-1.1,"s":-0.95,"hs":-0.3,"ob":-1.24e7,"f":0.0042,"b":56.5},
{"t":"2024-06-23T08:00Z","o":70.3,"h":70.5,"l":68.3,"c":69.0,"v":1.5e6,"e7":69.6,"e20":71.0,"e50":71.9,"e100":72.1,"e200":71.5,"bu":74.5,"bl":68.2,"r":30,"m":-1.15,"s":-1.1,"hs":-0.3,"ob":-1.3e7,"f":0.0019,"b":56.9},
{"t":"2024-06-23T12:00Z","o":69.0,"h":69.3,"l":68.3,"c":68.7,"v":1.2e6,"e7":69.0,"e20":70.4,"e50":71.6,"e100":71.9,"e200":71.45,"bu":74.0,"bl":67.6,"r":33,"m":-1.05,"s":-1.1,"hs":-0.1,"ob":-1.45e7,"f":0.0019,"b":56.8},
{"t":"2024-06-23T16:00Z","o":68.7,"h":69.2,"l":68.4,"c":68.9,"v":1.0e6,"e7":68.9,"e20":69.9,"e50":71.3,"e100":71.7,"e200":71.4,"bu":73.3,"bl":67.5,"r":32,"m":-0.75,"s":-0.9,"hs":0.12,"ob":-1.5e7,"f":-0.0019,"b":56.7},
{"t":"2024-06-23T20:00Z","o":68.9,"h":69.6,"l":68.6,"c":69.2,"v":0.9e6,"e7":69.1,"e20":69.7,"e50":71.1,"e100":71.5,"e200":71.35,"bu":72.6,"bl":67.6,"r":50,"m":-0.55,"s":-0.7,"hs":0.2,"ob":-1.35e7,"f":-0.0019,"b":56.8},
{"t":"2024-06-24T00:00Z","o":69.2,"h":70.0,"l":68.9,"c":69.6,"v":0.8e6,"e7":69.4,"e20":69.6,"e50":70.9,"e100":71.4,"e200":71.3,"bu":72.0,"bl":67.9,"r":48,"m":-0.4,"s":-0.52,"hs":0.25,"ob":-1.2e7,"f":0.0022,"b":56.7},
{"t":"2024-06-24T04:00Z","o":69.6,"h":70.2,"l":69.3,"c":69.8,"v":0.7e6,"e7":69.6,"e20":69.6,"e50":70.7,"e100":71.3,"e200":71.25,"bu":71.6,"bl":68.3,"r":45,"m":-0.3,"s":-0.4,"hs":0.25,"ob":-1.15e7,"f":0.0022,"b":56.8},
{"t":"2024-06-24T08:00Z","o":69.8,"h":70.1,"l":69.0,"c":69.26,"v":0.4e6,"e7":69.55,"e20":69.65,"e50":70.54,"e100":71.2,"e200":71.2,"bu":71.3,"bl":68.5,"r":41.17,"m":-0.25,"s":-0.32,"hs":0.15,"ob":-1.15e7,"f":0.0022,"b":56.66}
]},
"vconcat":[
{"width":686,"height":200,"data":{"name":"d"},
 "encoding":{"x":{"field":"t","type":"temporal","scale":{"type":"utc","domain":[1717405200000,1719219600000]},"axis":{"title":null,"labels":false,"ticks":false,"domain":false,"grid":true,"values":[1717416000000,1717776000000,1718136000000,1718496000000,1718856000000]}}},
 "layer":[
  {"mark":{"type":"line","stroke":"#6e7681","strokeWidth":0.8,"strokeDash":[3,2],"clip":true},"encoding":{"y":{"field":"bu","type":"quantitative","title":"Price","scale":{"domain":[60,76.4],"nice":false,"zero":false},"axis":{"orient":"right","values":[60,62,64,66,68,70,72,74,76],"format":"d","grid":true,"labelOverlap":false,"tickCount":9}}}},
  {"mark":{"type":"line","stroke":"#6e7681","strokeWidth":0.8,"strokeDash":[3,2],"clip":true},"encoding":{"y":{"field":"bl","type":"quantitative","title":"Price","scale":{"domain":[60,76.4],"nice":false,"zero":false},"axis":{"orient":"right","values":[60,62,64,66,68,70,72,74,76],"format":"d","grid":true,"labelOverlap":false,"tickCount":9}}}},
  {"mark":{"type":"rule","strokeWidth":1,"clip":true},"encoding":{"y":{"field":"l","type":"quantitative","title":"Price","scale":{"domain":[60,76.4],"nice":false,"zero":false},"axis":{"orient":"right","values":[60,62,64,66,68,70,72,74,76],"format":"d","grid":true,"labelOverlap":false,"tickCount":9}},"y2":{"field":"h"},"color":{"condition":{"test":"datum.c >= datum.o","value":"#3fb950"},"value":"#f85149"}}},
  {"mark":{"type":"bar","width":3.4,"clip":true},"encoding":{"y":{"field":"o","type":"quantitative","title":"Price","scale":{"domain":[60,76.4],"nice":false,"zero":false},"axis":{"orient":"right","values":[60,62,64,66,68,70,72,74,76],"format":"d","grid":true,"labelOverlap":false,"tickCount":9}},"y2":{"field":"c"},"color":{"condition":{"test":"datum.c >= datum.o","value":"#3fb950"},"value":"#f85149"}}},
  {"mark":{"type":"line","strokeWidth":1,"clip":true},"encoding":{"y":{"field":"e7","type":"quantitative","title":"Price","scale":{"domain":[60,76.4],"nice":false,"zero":false},"axis":{"orient":"right","values":[60,62,64,66,68,70,72,74,76],"format":"d","grid":true,"labelOverlap":false,"tickCount":9}},"color":{"datum":"EMA7","scale":{"domain":["EMA7","EMA20","EMA50","EMA100","EMA200"],"range":["#f47067","#39c5bb","#e8c95c","#9fd3d8","#c77dff"]},"legend":{"title":null,"orient":"bottom-left","direction":"horizontal","offset":4,"padding":2,"fillColor":"#0d1117","strokeColor":"#30363d","cornerRadius":3,"labelColor":"#c9d1d9","labelFontSize":10,"labelFont":"DejaVu Sans","symbolType":"stroke","symbolSize":400,"symbolStrokeWidth":2,"labelOffset":7,"columnPadding":9}}}},
  {"mark":{"type":"line","strokeWidth":1.2,"clip":true},"encoding":{"y":{"field":"e20","type":"quantitative","title":"Price","scale":{"domain":[60,76.4],"nice":false,"zero":false},"axis":{"orient":"right","values":[60,62,64,66,68,70,72,74,76],"format":"d","grid":true,"labelOverlap":false,"tickCount":9}},"color":{"datum":"EMA20"}}},
  {"mark":{"type":"line","strokeWidth":1.3,"clip":true},"encoding":{"y":{"field":"e50","type":"quantitative","title":"Price","scale":{"domain":[60,76.4],"nice":false,"zero":false},"axis":{"orient":"right","values":[60,62,64,66,68,70,72,74,76],"format":"d","grid":true,"labelOverlap":false,"tickCount":9}},"color":{"datum":"EMA50"}}},
  {"mark":{"type":"line","strokeWidth":1.2,"clip":true},"encoding":{"y":{"field":"e100","type":"quantitative","title":"Price","scale":{"domain":[60,76.4],"nice":false,"zero":false},"axis":{"orient":"right","values":[60,62,64,66,68,70,72,74,76],"format":"d","grid":true,"labelOverlap":false,"tickCount":9}},"color":{"datum":"EMA100"}}},
  {"mark":{"type":"line","strokeWidth":1.8,"clip":true},"encoding":{"y":{"field":"e200","type":"quantitative","title":"Price","scale":{"domain":[60,76.4],"nice":false,"zero":false},"axis":{"orient":"right","values":[60,62,64,66,68,70,72,74,76],"format":"d","grid":true,"labelOverlap":false,"tickCount":9}},"color":{"datum":"EMA200"}}},
  {"transform":[{"filter":"datum.o == 72.6 && datum.c == 72.4"}],"mark":{"type":"rect","fill":"#0d1117","fillOpacity":0.88,"stroke":"#3a4049","strokeWidth":1,"cornerRadius":3},"encoding":{"x":{"datum":{"year":2024,"month":6,"date":3,"hours":10,"utc":true},"type":"temporal"},"x2":{"datum":{"year":2024,"month":6,"date":7,"hours":4,"utc":true}},"y":{"datum":76.32,"type":"quantitative","scale":{"domain":[60,76.4],"nice":false,"zero":false}},"y2":{"datum":67.4}}},
  {"transform":[{"filter":"datum.o == 72.6 && datum.c == 72.4"}],"mark":{"type":"text","text":["Price\u00a0:\u00a0\u00a0\u00a0\u00a0\u00a0\u00a0\u00a0\u00a069.26","EMA7\u00a0\u00a0:\u00a0\u00a0\u00a0\u00a0\u00a0\u00a0\u00a0\u00a069.55","EMA20\u00a0:\u00a0\u00a0\u00a0\u00a0\u00a0\u00a0\u00a0\u00a069.65","EMA50\u00a0:\u00a0\u00a0\u00a0\u00a0\u00a0\u00a0\u00a0\u00a070.54","EMA200:\u00a0\u00a0\u00a0\u00a0\u00a0\u00a0\u00a0\u00a071.05","BB\u00a0Mid:\u00a0\u00a0\u00a0\u00a0\u00a0\u00a0\u00a0\u00a069.30","RSI\u00a0\u00a0\u00a0:\u00a0\u00a0\u00a0\u00a0\u00a0\u00a0\u00a0\u00a041.17","Fund\u00a0\u00a0:\u00a0\u00a0\u00a0\u00a0\u00a0\u00a00.0022%","BTC.D\u00a0:\u00a0\u00a0\u00a0\u00a0\u00a0\u00a0\u00a056.66%","USDT.D:\u00a0\u00a0\u00a0\u00a0\u00a0\u00a0\u00a0\u00a08.34%"],"font":"DejaVu Sans Mono","fontSize":9.8,"lineHeight":10.45,"align":"left","baseline":"top","dx":-0.5,"color":"#e6edf3"},"encoding":{"y":{"datum":76.2,"type":"quantitative","scale":{"domain":[60,76.4],"nice":false,"zero":false}}}}
 ]},
{"width":686,"height":51,"data":{"name":"d"},
 "encoding":{"x":{"field":"t","type":"temporal","scale":{"type":"utc","domain":[1717405200000,1719219600000]},"axis":{"title":null,"labels":false,"ticks":false,"domain":false,"grid":true,"values":[1717416000000,1717776000000,1718136000000,1718496000000,1718856000000]}}},
 "layer":[
  {"mark":{"type":"bar","width":2.6,"opacity":0.7},"encoding":{"y":{"field":"v","type":"quantitative","title":"Vol","scale":{"domain":[0,6900000],"nice":false},"axis":{"orient":"right","values":[0,5000000],"labelExpr":"datum.value / 1000000","grid":true}},"color":{"condition":{"test":"datum.c >= datum.o","value":"#2ea043"},"value":"#da3633"}}},
  {"transform":[{"filter":"datum.c == 69.26"}],"mark":{"type":"text","text":"1e6","align":"right","baseline":"bottom","dx":1.5,"dy":-1,"fontSize":10,"color":"#8b949e"},"encoding":{"y":{"datum":6900000,"type":"quantitative","scale":{"domain":[0,6900000],"nice":false}}}}
 ]},
{"width":686,"height":50,"data":{"name":"d"},
 "encoding":{"x":{"field":"t","type":"temporal","scale":{"type":"utc","domain":[1717405200000,1719219600000]},"axis":{"title":null,"labels":false,"ticks":false,"domain":false,"grid":true,"values":[1717416000000,1717776000000,1718136000000,1718496000000,1718856000000]}}},
 "layer":[
  {"mark":{"type":"line","stroke":"#f5c211","strokeWidth":1.2},"encoding":{"y":{"field":"r","type":"quantitative","title":"RSI","scale":{"domain":[15,94],"nice":false,"zero":false},"axis":{"orient":"right","values":[25,50,75],"format":"d","grid":true,"labelOverlap":false}}}}
 ]},
{"width":686,"height":50,"data":{"name":"d"},
 "encoding":{"x":{"field":"t","type":"temporal","scale":{"type":"utc","domain":[1717405200000,1719219600000]},"axis":{"title":null,"labels":false,"ticks":false,"domain":false,"grid":true,"values":[1717416000000,1717776000000,1718136000000,1718496000000,1718856000000]}}},
 "layer":[
  {"mark":{"type":"line","stroke":"#1fb4f5","strokeWidth":1.5},"encoding":{"y":{"field":"m","type":"quantitative","title":"MACD","scale":{"domain":[-1.52,1.77],"nice":false,"zero":false},"axis":{"orient":"right","values":[-1,0,1],"format":"d","grid":true,"labelOverlap":false,"labelBaseline":{"condition":{"test":"datum.value < -0.5","value":"bottom"},"value":"middle"}}}}},
  {"mark":{"type":"line","stroke":"#ff8c1a","strokeWidth":1.5},"encoding":{"y":{"field":"s","type":"quantitative","title":"MACD","scale":{"domain":[-1.52,1.77],"nice":false,"zero":false},"axis":{"orient":"right","values":[-1,0,1],"format":"d","grid":true,"labelOverlap":false,"labelBaseline":{"condition":{"test":"datum.value < -0.5","value":"bottom"},"value":"middle"}}}}}
 ]},
{"width":686,"height":50,"data":{"name":"d"},
 "encoding":{"x":{"field":"t","type":"temporal","scale":{"type":"utc","domain":[1717405200000,1719219600000]},"axis":{"title":null,"labels":false,"ticks":false,"domain":false,"grid":true,"values":[1717416000000,1717776000000,1718136000000,1718496000000,1718856000000]}}},
 "layer":[
  {"mark":{"type":"bar","width":4.6,"fill":"#45cfc0","stroke":"#12413d","strokeWidth":0.6},"encoding":{"y":{"field":"hs","type":"quantitative","title":"Hist","scale":{"domain":[-0.39,0.505],"nice":false},"axis":{"orient":"right","values":[0,0.5],"format":".1f","grid":true,"labelOverlap":false,"labelBaseline":{"condition":{"test":"datum.value > 0.4","value":"top"},"value":"middle"}}}}},
  {"transform":[{"filter":"datum.o == 67.5 && datum.c == 67.7"}],"mark":{"type":"text","text":"blockdigest.io","angle":-33,"fontSize":44,"fontWeight":"bold","color":"#8b949e","opacity":0.07,"align":"center","baseline":"middle"},"encoding":{"y":{"datum":1.36,"type":"quantitative","scale":{"domain":[-0.39,0.505],"nice":false}}}}
 ]},
{"width":686,"height":50,"data":{"name":"d"},
 "encoding":{"x":{"field":"t","type":"temporal","scale":{"type":"utc","domain":[1717405200000,1719219600000]},"axis":{"title":null,"labels":false,"ticks":false,"domain":false,"grid":true,"values":[1717416000000,1717776000000,1718136000000,1718496000000,1718856000000]}}},
 "layer":[
  {"mark":{"type":"line","stroke":"#b77ee8","strokeWidth":1.2},"encoding":{"y":{"field":"ob","type":"quantitative","title":"OBV","scale":{"domain":[-28300000,6200000],"nice":false,"zero":false},"axis":{"orient":"right","values":[-20000000,0],"labelExpr":"format(datum.value / 10000000, 'd')","grid":true}}}},
  {"transform":[{"filter":"datum.c == 69.26"}],"mark":{"type":"text","text":"1e7","align":"right","baseline":"bottom","dx":1.5,"dy":-1,"fontSize":10,"color":"#8b949e"},"encoding":{"y":{"datum":6200000,"type":"quantitative","scale":{"domain":[-28300000,6200000],"nice":false,"zero":false}}}}
 ]},
{"width":686,"height":50,"data":{"name":"d"},
 "encoding":{"x":{"field":"t","type":"temporal","scale":{"type":"utc","domain":[1717405200000,1719219600000]},"axis":{"title":null,"labels":false,"ticks":false,"domain":false,"grid":true,"values":[1717416000000,1717776000000,1718136000000,1718496000000,1718856000000]}}},
 "layer":[
  {"mark":{"type":"line","stroke":"#e6b400","strokeWidth":1.7,"interpolate":"step-after"},"encoding":{"y":{"field":"f","type":"quantitative","title":"Fund%","scale":{"domain":[-0.0081,0.0106],"nice":false,"zero":false},"axis":{"orient":"right","values":[0,0.01],"format":".2f","grid":true}}}}
 ]},
{"width":686,"height":50,"data":{"name":"d"},
 "encoding":{"x":{"field":"t","type":"temporal","scale":{"type":"utc","domain":[1717405200000,1719219600000]},"axis":{"title":"blockdigest.io","format":"%b %d, %H:%M","labelAngle":-45,"labelAlign":"center","labelBaseline":"middle","labelPadding":24,"ticks":true,"tickSize":4,"domain":false,"grid":true,"values":[1717416000000,1717776000000,1718136000000,1718496000000,1718856000000],"titleAnchor":"end","titleAlign":"right","titleX":698,"titleY":55,"titleBaseline":"middle","titleFontWeight":"bold","titleFontSize":12,"titleColor":"#3a3f47"}}},
 "layer":[
  {"mark":{"type":"line","stroke":"#9bd0d0","strokeWidth":1},"encoding":{"y":{"field":"b","type":"quantitative","title":"BTC.D","scale":{"domain":[52.3,58.1],"nice":false,"zero":false},"axis":{"orient":"right","values":[55,57.5],"format":".1f","grid":true}}}}
 ]}
],
"config":{
 "font":"DejaVu Sans",
 "view":{"fill":"#161b22","stroke":"#30363d","strokeWidth":1},
 "axis":{"labelColor":"#8b949e","labelFontSize":10,"labelFont":"DejaVu Sans","tickColor":"#8b949e","tickSize":3.5,"labelPadding":4,"domain":false,"gridColor":"#2f353d","gridDash":[3,3],"gridWidth":0.8,"titleColor":"#8b949e","titleFontSize":10,"titleFontWeight":"normal","titleFont":"DejaVu Sans"},
 "axisRight":{"titleAngle":270,"titleBaseline":"top","titlePadding":4}
}
}
